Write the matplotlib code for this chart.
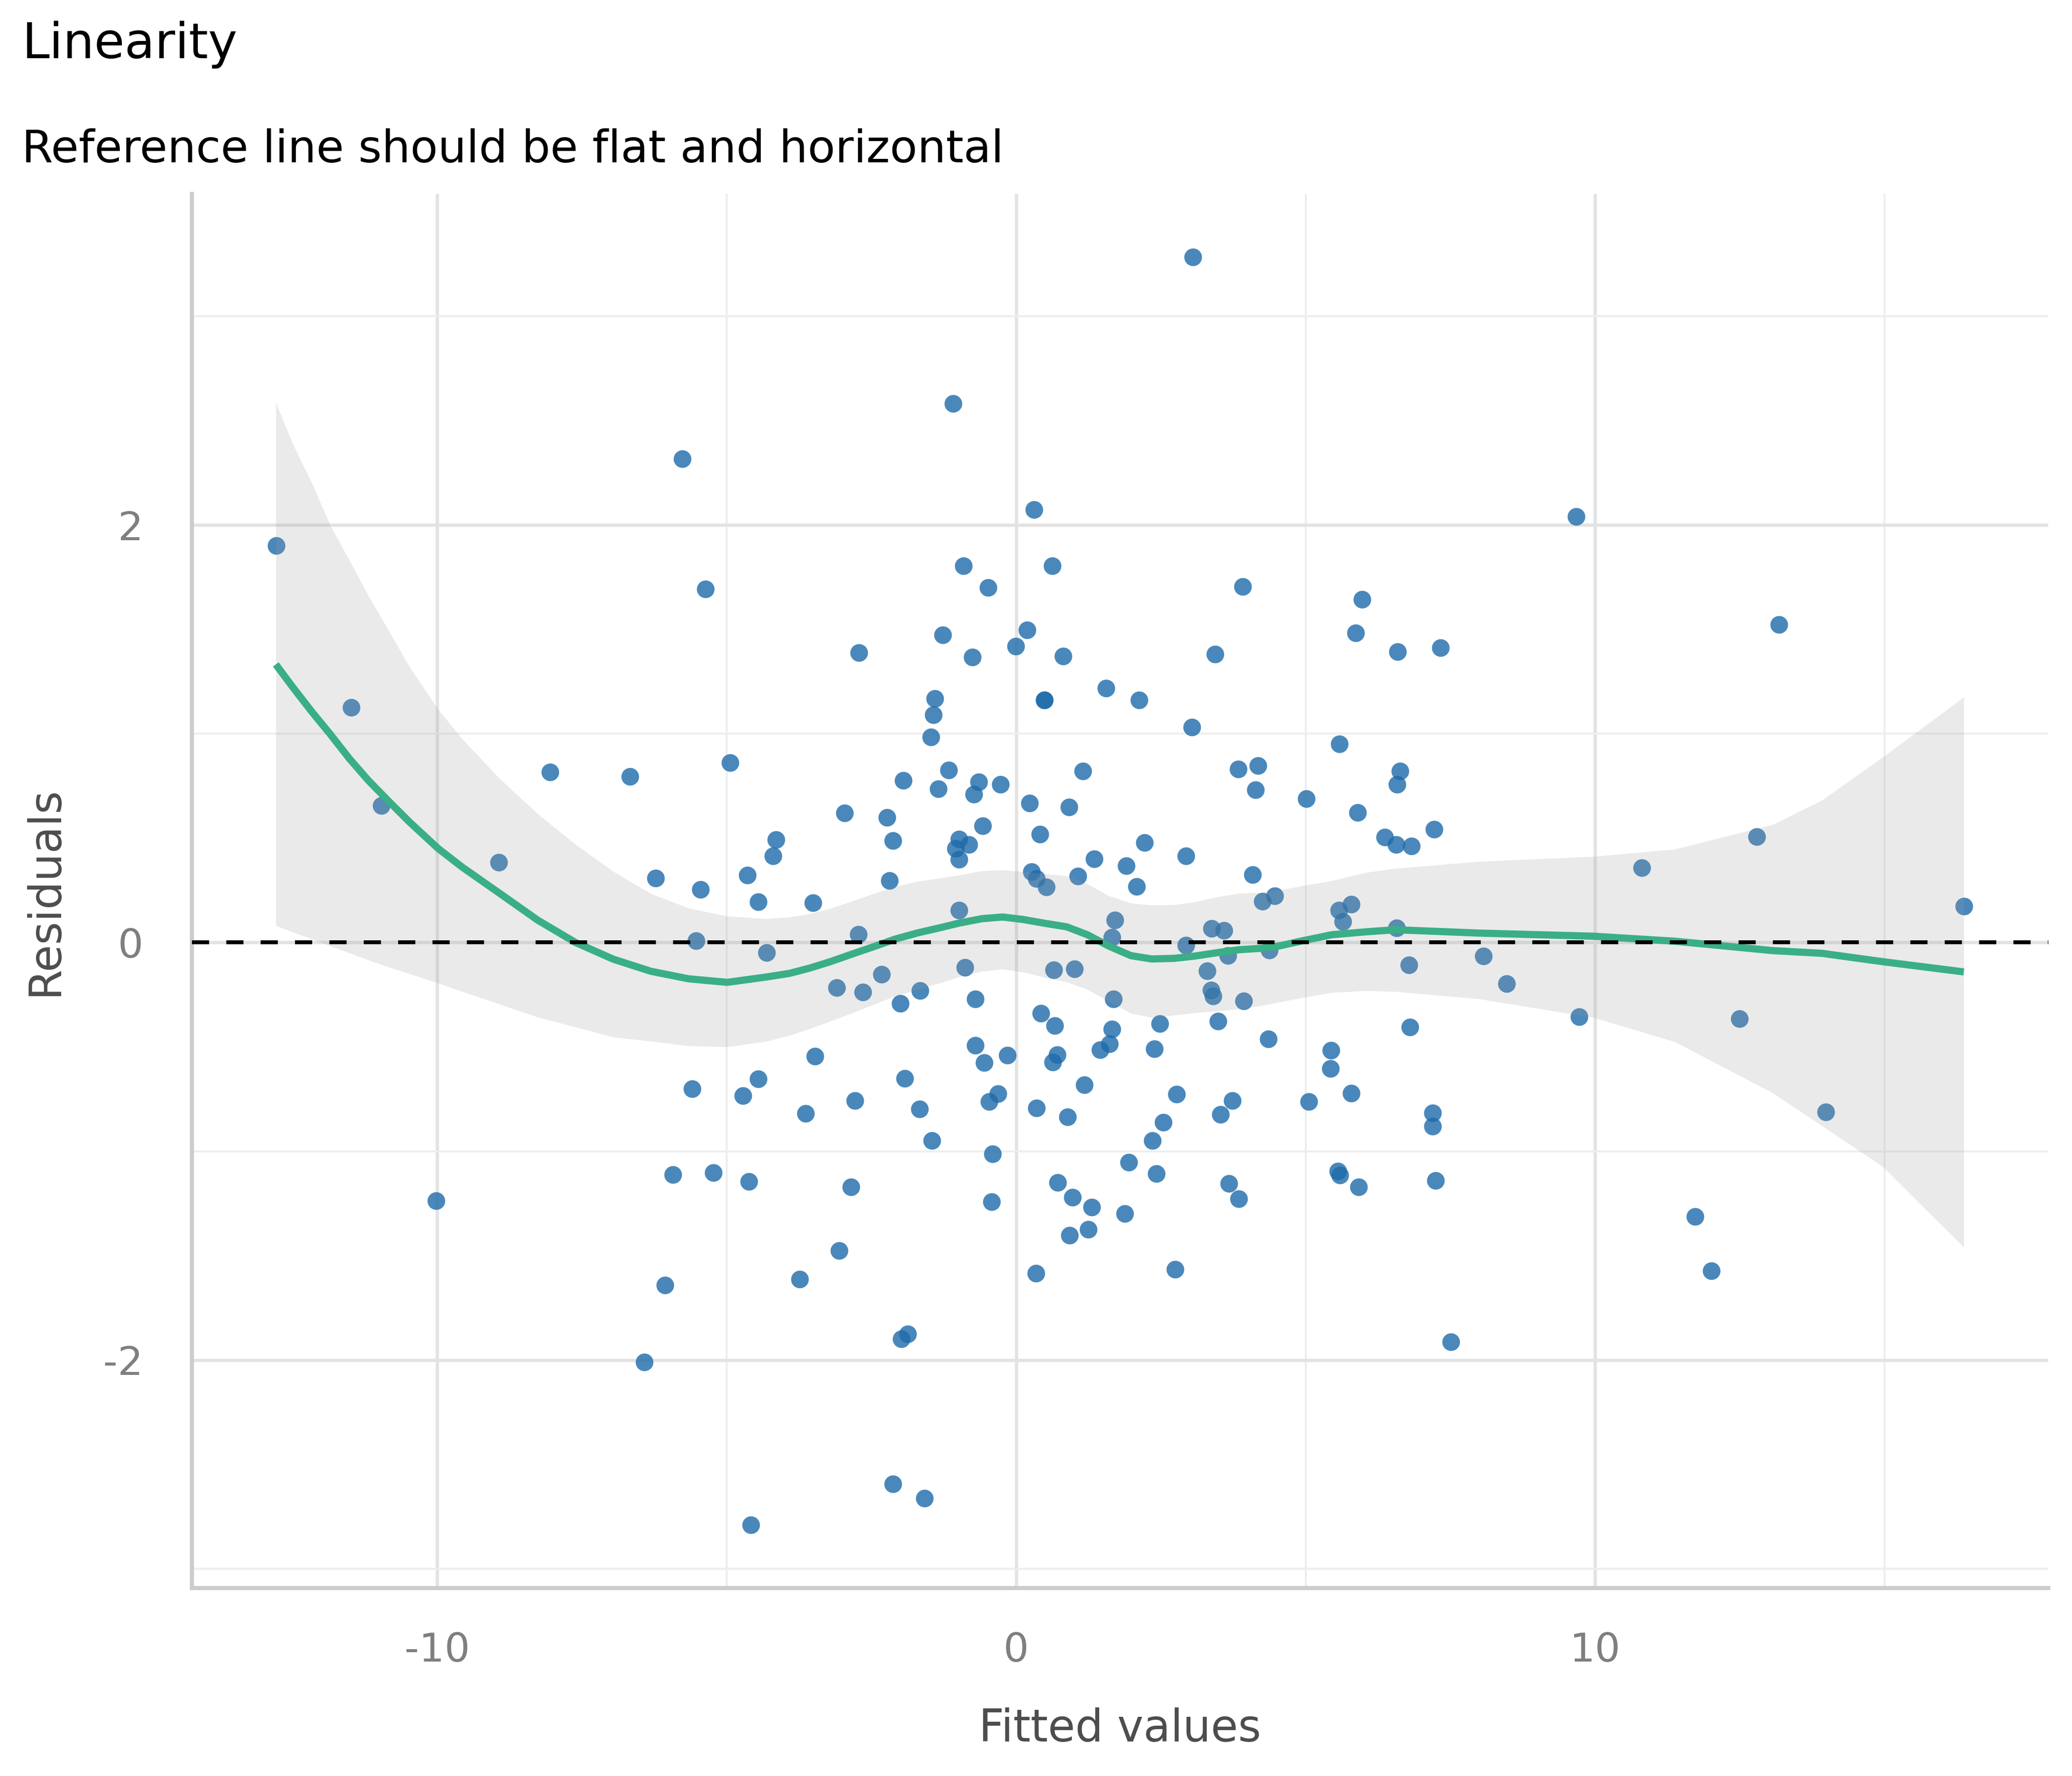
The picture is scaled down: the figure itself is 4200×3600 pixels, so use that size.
import matplotlib
matplotlib.use("Agg")
import matplotlib.pyplot as plt
from matplotlib.ticker import MultipleLocator, FixedLocator

plt.rcParams['font.family'] = ['DejaVu Sans']
plt.rcParams['axes.unicode_minus'] = False

# ---- data ----
fitted = [
    -12.786, -11.49, -10.97, -10.017, -8.936, -8.056, -6.675, -6.427, -6.225, -6.068,
    -5.932, -5.769, -5.60, -5.528, -5.45, -5.365, -5.228, -4.941, -4.72, -4.642,
    -4.616, -4.582, -4.459, -4.453, -4.31, -4.199, -4.153, -3.74, -3.635, -3.511,
    -3.472, -3.104, -3.06, -2.961, -2.850, -2.788, -2.726, -2.72, -2.651, -2.328,
    -2.234, -2.189, -2.13, -2.125, -2.0, -1.981, -1.954, -1.927, -1.871, -1.670,
    -1.664, -1.584, -1.469, -1.455, -1.43, -1.406, -1.348, -1.27, -1.166, -1.089,
    -1.051, -0.989, -0.989, -0.989, -0.907, -0.882, -0.814, -0.761, -0.732, -0.709,
    -0.706, -0.644, -0.582, -0.553, -0.483, -0.468, -0.422, -0.406, -0.312, -0.269,
    -0.152, -0.009, 0.19, 0.229, 0.265, 0.306, 0.35, 0.345, 0.35, 0.409,
    0.431, 0.486, 0.486, 0.523, 0.625, 0.646, 0.633, 0.662, 0.718, 0.711,
    0.81, 0.887, 0.910, 0.925, 0.969, 1.011, 1.063, 1.154, 1.177, 1.246,
    1.305, 1.350, 1.452, 1.549, 1.608, 1.653, 1.657, 1.709, 1.680, 1.898,
    1.878, 1.944, 2.077, 2.126, 2.220, 2.357, 2.384, 2.422, 2.484, 2.540,
    2.742, 2.775, 2.93, 2.937, 3.038, 3.056, 3.302, 3.371, 3.377, 3.406,
    3.433, 3.488, 3.527, 3.589, 3.661, 3.674, 3.736, 3.834, 3.846, 3.914,
    3.934, 4.084, 4.133, 4.175, 4.253, 4.355, 4.374, 4.469, 5.009, 5.059,
    5.44, 5.432, 5.559, 5.58, 5.575, 5.593, 5.644, 5.787, 5.787, 5.864,
    5.897, 5.914, 5.974, 6.364, 6.566, 6.584, 6.575, 6.592, 6.635, 6.787,
    6.804, 6.83, 7.194, 7.194, 7.22, 7.244, 7.329, 7.507, 8.075, 8.473,
    9.675, 9.727, 10.81, 11.73, 12.01, 12.497, 12.79, 13.18, 13.99, 16.37,
]
residuals = [
    1.900, 1.126, 0.656, -1.237, 0.385, 0.816, 0.795, -2.011, 0.309, -1.642,
    -1.112, 2.316, -0.701, 0.009, 0.254, 1.692, -1.103, 0.861, -0.735, 0.322,
    -1.146, -2.790, -0.654, 0.195, -0.048, 0.415, 0.493, -1.612, -0.820, 0.189,
    -0.546, -0.216, -1.475, 0.620, -1.171, -0.758, 0.039, 1.388, -0.238, -0.153,
    0.598, 0.296, 0.488, -2.595, -0.291, -1.899, 0.775, -0.652, -1.875, -0.797,
    -0.230, -2.663, 0.984, -0.950, 1.091, 1.168, 0.737, 1.473, 0.826, 2.581,
    0.450, 0.494, 0.397, 0.155, 1.805, -0.120, 0.468, 1.368, 0.711, -0.270,
    -0.494, 0.770, 0.558, -0.576, 1.700, -0.763, -1.242, -1.014, -0.724, 0.757,
    -0.541, 1.419, 1.496, 0.667, 0.338, 2.074, -0.793, -1.584, 0.306, 0.519,
    -0.340, 1.162, 1.162, 0.266, 1.805, -0.131, -0.574, -0.398, -1.151, -0.537,
    1.371, -0.836, 0.649, -1.403, -1.221, -0.127, 0.317, 0.820, -0.681, -1.374,
    -1.267, 0.401, -0.515, 1.219, -0.487, -0.415, 0.024, 0.107, -0.270, 0.367,
    -1.299, -1.052, 0.267, 1.161, 0.478, -0.948, -0.509, -1.107, -0.390, -0.862,
    -1.566, -0.726, 0.414, -0.014, 1.031, 3.283, -0.136, -0.229, 0.066, -0.257,
    1.381, -0.378, -0.823, 0.058, -0.062, -1.154, -0.757, 0.831, -1.229, 1.706,
    -0.280, 0.324, 0.731, 0.848, 0.198, -0.462, -0.036, 0.224, 0.688, -0.762,
    -0.517, -0.603, -1.096, 0.951, 0.155, -1.115, 0.100, 0.184, -0.721, 1.482,
    0.622, -1.172, 1.643, 0.504, 0.469, 0.757, 0.069, 1.392, 0.822, -0.108,
    -0.406, 0.463, -0.817, -0.880, 0.543, -1.141, 1.412, -1.913, -0.066, -0.198,
    2.041, -0.357, 0.359, -1.313, -1.572, -0.365, 0.506, 1.523, -0.811, 0.173,
]

smooth_x = [
    -12.79, -12.50, -12.17, -11.85, -11.52, -11.20, -10.87, -10.48, -9.985, -9.57,
    -8.916, -8.26, -7.613, -6.96, -6.31, -5.66, -4.99, -4.307,
    -3.916, -3.558, -3.20, -2.809, -2.418, -2.092, -1.701, -1.31, -0.984, -0.593,
    -0.235, 0.124, 0.514, 0.873, 1.231, 1.59, 1.98, 2.339, 2.729, 3.088,
    3.446, 3.837, 4.228, 4.554, 4.945, 5.453, 6.04, 6.55, 7.99, 9.97,
    11.38, 13.07, 13.92, 14.97, 16.37,
]
smooth_y = [
    1.332, 1.224, 1.106, 0.998, 0.881, 0.779, 0.685, 0.577, 0.450, 0.361,
    0.234, 0.106, 0.000, -0.080, -0.138, -0.174, -0.191, -0.165,
    -0.148, -0.122, -0.091, -0.053, -0.016, 0.016, 0.046, 0.071, 0.093, 0.114,
    0.122, 0.110, 0.091, 0.075, 0.037, -0.016, -0.063, -0.079, -0.076, -0.065,
    -0.050, -0.035, -0.028, -0.016, 0.008, 0.037, 0.051, 0.061, 0.045, 0.030,
    0.006, -0.039, -0.052, -0.092, -0.141,
]
band_upper = [
    2.586, 2.390, 2.202, 1.998, 1.831, 1.665, 1.508, 1.320, 1.116, 0.975,
    0.783, 0.615, 0.470, 0.340, 0.234, 0.165, 0.126, 0.114,
    0.122, 0.138, 0.164, 0.201, 0.238, 0.268, 0.293, 0.309, 0.323, 0.343,
    0.348, 0.339, 0.329, 0.319, 0.280, 0.225, 0.189, 0.179, 0.181, 0.195,
    0.217, 0.235, 0.240, 0.251, 0.272, 0.296, 0.335, 0.355, 0.388, 0.412,
    0.447, 0.565, 0.682, 0.888, 1.176,
]
band_lower = [
    0.081, 0.050, 0.017, -0.017, -0.050, -0.083, -0.115, -0.150, -0.195, -0.235,
    -0.296, -0.358, -0.405, -0.453, -0.473, -0.495, -0.500, -0.473,
    -0.445, -0.412, -0.376, -0.335, -0.292, -0.256, -0.225, -0.193, -0.165, -0.138,
    -0.128, -0.142, -0.169, -0.189, -0.225, -0.280, -0.339, -0.359, -0.348, -0.337,
    -0.329, -0.319, -0.303, -0.285, -0.264, -0.240, -0.231, -0.235, -0.270, -0.359,
    -0.476, -0.721, -0.878, -1.074, -1.460,
]

x_ticks = [-10, 0, 10]
y_ticks = [-2, 0, 2]
title = "Linearity"
subtitle = "Reference line should be flat and horizontal"
x_label = "Fitted values"
y_label = "Residuals"

# ---- figure ----
fig = plt.figure(figsize=(14, 12), dpi=300)
ax = fig.add_axes([0.0925, 0.1057, 0.896, 0.7852])

xmin, xmax = min(fitted), max(fitted)
ymin, ymax = min(residuals), max(residuals)
xp = 0.05 * (xmax - xmin)
yp = 0.05 * (ymax - ymin)
ax.set_xlim(xmin - xp, xmax + xp)
ax.set_ylim(ymin - yp, ymax + yp)

ax.xaxis.set_major_locator(FixedLocator(x_ticks))
ax.yaxis.set_major_locator(FixedLocator(y_ticks))
ax.xaxis.set_minor_locator(MultipleLocator(5))
ax.yaxis.set_minor_locator(MultipleLocator(1))
ax.set_axisbelow(True)
ax.grid(which='major', color='#e3e3e3', linewidth=1.6)
ax.grid(which='minor', color='#eeeeee', linewidth=1.0)

ax.scatter(fitted, residuals, s=74, c='#1d6baa', alpha=0.8, linewidths=0, zorder=3)
ax.fill_between(smooth_x, band_lower, band_upper, color='#999999', alpha=0.2,
                linewidth=0, zorder=4)
ax.plot(smooth_x, smooth_y, color='#3aaf85', linewidth=3.5, zorder=5,
        solid_capstyle='butt', solid_joinstyle='round')
ax.axhline(0, color='black', linewidth=1.9, linestyle=(0, (4.4, 4.4)), zorder=6)

for s in ['top', 'right']:
    ax.spines[s].set_visible(False)
for s in ['left', 'bottom']:
    ax.spines[s].set_color('#cccccc')
    ax.spines[s].set_linewidth(2.0)

ax.tick_params(which='both', length=0)
ax.tick_params(axis='x', which='major', labelsize=19.5, labelcolor='#7f7f7f', pad=21)
ax.tick_params(axis='y', which='major', labelsize=19.5, labelcolor='#7f7f7f', pad=23.5)
ax.set_xticklabels([str(t) for t in x_ticks])
ax.set_yticklabels([str(t) for t in y_ticks])

cx = 0.0925 + 0.896 / 2
cy = 0.1057 + 0.7852 / 2
fig.text(cx, 0.0194, x_label, fontsize=21.5, color='#4d4d4d', ha='center', va='baseline')
fig.text(0.0277, cy, y_label, fontsize=21.5, color='#4d4d4d', rotation=90,
         rotation_mode='anchor', ha='center', va='baseline')
fig.text(0.0105, 0.9673, title, fontsize=24, color='black', ha='left', va='baseline')
fig.text(0.0105, 0.9087, subtitle, fontsize=21.9, color='black', ha='left', va='baseline')

fig.savefig('out.png', dpi=300, facecolor='white')
